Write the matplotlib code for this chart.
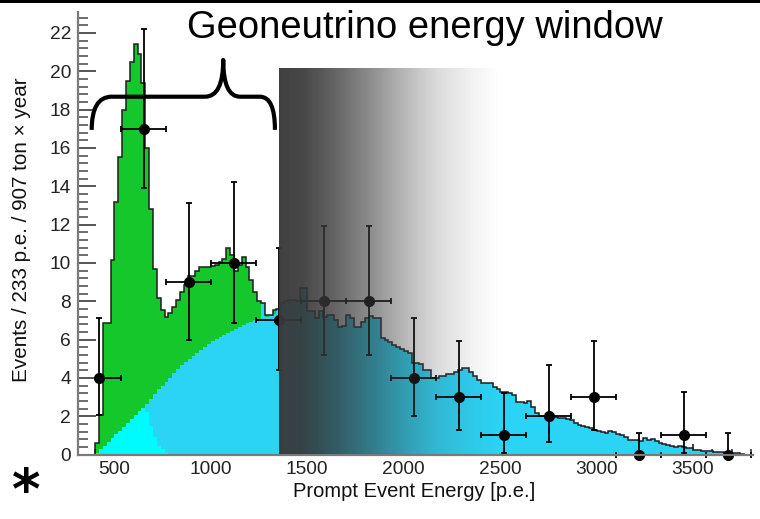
import numpy as np
import matplotlib
matplotlib.use("Agg")
import matplotlib.pyplot as plt
from matplotlib.path import Path
from matplotlib.patches import PathPatch, Rectangle
from matplotlib.ticker import MultipleLocator

plt.rcParams['font.family'] = ['Liberation Sans', 'DejaVu Sans']

# ---------------- data ----------------
# MC histogram: bins of 20 p.e. starting at 382 p.e.
bin_start = 382
bin_width = 20

# total expectation (black outline / top of green)
total = [
    0.0, 0.6, 2.05, 6.85, 6.85, 10.15, 13.2, 15.5, 18.0, 19.5,
    20.5, 21.4, 20.9, 19.4, 16.0, 12.8, 9.7, 8.15, 7.55, 7.2,
    7.4, 7.7, 8.05, 8.5, 8.85, 9.3, 9.3, 9.6, 9.8, 9.8,
    9.8, 9.85, 9.9, 10.05, 10.2, 10.8, 10.4, 9.6, 9.9, 10.3,
    9.8, 9.1, 8.5, 8.0, 7.9, 7.3, 7.3, 7.55, 7.6, 7.9,
    8.0, 8.05, 8.05, 8.0, 8.7, 8.7, 7.5, 7.5, 7.1, 7.5,
    7.2, 7.3, 7.3, 7.0, 6.65, 6.7, 7.3, 7.1, 6.65, 6.65,
    6.9, 7.1, 7.25, 7.1, 7.1, 6.1, 5.95, 5.85, 5.7, 5.6,
    5.5, 5.4, 5.3, 4.8, 4.8, 4.7, 4.4, 4.4, 4.0, 4.0,
    4.1, 4.1, 4.2, 4.2, 4.3, 4.4, 4.5, 4.5, 4.3, 4.1,
    3.9, 3.72, 3.74, 3.74, 3.54, 3.4, 3.28, 3.28, 3.2, 3.1,
    2.76, 2.76, 2.67, 2.81, 2.5, 2.15, 2.0, 2.0, 1.94, 1.94,
    1.94, 1.9, 1.9, 1.85, 1.8, 1.63, 1.55, 1.5, 1.42, 1.37,
    1.28, 1.25, 1.2, 1.14, 1.25, 1.2, 1.05, 1.0, 0.9, 0.76,
    0.76, 0.74, 0.73, 0.85, 0.76, 0.8, 0.7, 0.58, 0.55, 0.5,
    0.44, 0.39, 0.44, 0.4, 0.36, 0.32, 0.23, 0.23, 0.2, 0.18,
    0.18, 0.12, 0.12, 0.11, 0.09, 0.09, 0.09, 0.06, 0.05, 0.0,
]

# reactor (blue) top in the low-energy part; above that it equals total
reactor_low = [
    0.0, 0.1, 0.3, 0.45, 0.65, 0.85, 1.05, 1.25, 1.45, 1.65,
    1.85, 2.05, 2.25, 2.45, 2.65, 2.9, 3.15, 3.4, 3.6, 3.8,
    4.0, 4.25, 4.45, 4.65, 4.85, 5.0, 5.15, 5.3, 5.45, 5.6,
    5.75, 5.9, 6.05, 6.15, 6.25, 6.35, 6.45, 6.55, 6.65, 6.75,
    6.85, 6.9, 7.0, 7.05, 7.9, 7.2, 7.3, 7.35, 7.6, 7.9,
]

# other background (cyan) top
other_low = [
    0.0, 0.1, 0.3, 0.45, 0.65, 0.85, 1.05, 1.25, 1.45, 1.65,
    1.85, 2.05, 2.25, 2.45, 2.2, 1.5, 0.9, 0.45, 0.3, 0.1,
]

# data points (233 p.e. bins)
data_x = [422, 655, 888, 1121, 1354, 1587, 1820, 2053, 2286, 2519,
          2752, 2985, 3218, 3451, 3684]
data_y = [4, 17, 9, 10, 7, 8, 8, 4, 3, 1, 2, 3, 0, 1, 0]
data_lo = [2.05, 13.9, 6.0, 6.85, 4.4, 5.2, 5.2, 2.0, 1.3, 0.1,
           0.65, 1.3, 0.0, 0.1, 0.0]
data_hi = [7.1, 22.2, 13.1, 14.2, 10.8, 11.9, 11.9, 7.1, 5.9, 3.2,
           4.65, 5.9, 1.1, 3.25, 1.1]
data_xlo = [10, 116.5, 116.5, 116.5, 116.5, 116.5, 116.5, 116.5, 116.5,
            116.5, 116.5, 116.5, 116.5, 116.5, 116.5]
data_xhi = [116.5] * 15

# geoneutrino window bracket & shaded region (p.e.)
window_lo, window_hi, window_tip = 384.5, 1334, 1066
shade_lo, shade_hi, shade_top = 1355, 2500, 20.1

# ---------------- figure ----------------
W, H = 760, 519
fig = plt.figure(figsize=(W / 100, H / 100), dpi=100)
ax = fig.add_axes([78 / W, (H - 454.5) / H, (753 - 78) / W, (454.5 - 12) / H])

edges = bin_start + bin_width * np.arange(len(total) + 1)
total_a = np.array(total)
reactor = total_a.copy()
reactor[:len(reactor_low)] = reactor_low
other = np.zeros_like(total_a)
other[:len(other_low)] = other_low

GREEN = '#14c82c'
BLUE = '#2bd3f5'
CYAN = '#00fbff'

ax.stairs(total_a, edges, baseline=0, fill=True, color=GREEN, lw=0, zorder=1)
ax.stairs(reactor, edges, baseline=other, fill=True, color=BLUE, lw=0, zorder=2)
ax.stairs(other, edges, baseline=0, fill=True, color=CYAN, lw=0, zorder=3)
ax.stairs(total_a, edges, baseline=None, color='#1e1e1e', lw=1.1, zorder=4)

yerr = [np.array(data_y) - np.array(data_lo), np.array(data_hi) - np.array(data_y)]
ax.errorbar(data_x, data_y, xerr=[data_xlo, data_xhi], yerr=yerr, fmt='o',
            color='black', ms=7, elinewidth=1.3, capsize=2, capthick=1.3,
            zorder=6, clip_on=False)

# gradient shading (over white -> w, over black -> b)
n = 500
t = np.linspace(0, 1, n)
w = np.interp(t, [0, 0.11, 0.26, 0.41, 0.56, 0.71, 0.86, 1.0],
              [0.25, 0.28, 0.40, 0.55, 0.71, 0.855, 0.94, 1.0])
b = 0.22 * (1 - t)
a = np.clip(1 - w + b, 0, 1)
c = np.where(a > 1e-6, b / np.maximum(a, 1e-6), 0)
rgba = np.zeros((1, n, 4))
rgba[0, :, 0] = c
rgba[0, :, 1] = c
rgba[0, :, 2] = c
rgba[0, :, 3] = a
ax.imshow(rgba, extent=[shade_lo, shade_hi, 0, shade_top], aspect='auto',
          interpolation='bilinear', zorder=10)

# curly brace
yb, ym, yt = 16.94, 18.67, 20.59
verts = [(window_lo, yb), (window_lo, ym), (488, ym),
         (971.5, ym),
         (window_tip, ym), (window_tip, yt),
         (window_tip, ym), (1153, ym),
         (1256, ym),
         (window_hi, ym), (window_hi, yb)]
codes = [Path.MOVETO, Path.CURVE3, Path.CURVE3,
         Path.LINETO,
         Path.CURVE3, Path.CURVE3,
         Path.CURVE3, Path.CURVE3,
         Path.LINETO,
         Path.CURVE3, Path.CURVE3]
ax.add_patch(PathPatch(Path(verts, codes), fill=False, lw=3.0, color='black',
                       capstyle='butt', joinstyle='round', zorder=7))

ax.set_xlim(313.5, 3811)
ax.set_ylim(0, 23.09)
ax.set_facecolor('none')

for s in ('top', 'right'):
    ax.spines[s].set_visible(False)
for s in ('left', 'bottom'):
    ax.spines[s].set_color('#7a7a7a')
    ax.spines[s].set_linewidth(1.6)
    ax.spines[s].set_zorder(9)

ax.xaxis.set_major_locator(MultipleLocator(500))
ax.xaxis.set_minor_locator(MultipleLocator(100))
ax.yaxis.set_major_locator(MultipleLocator(2))
ax.yaxis.set_minor_locator(MultipleLocator(0.4))
ax.tick_params(axis='x', which='major', direction='in', length=8, width=1.3,
               color='#333333', labelsize=13.8, pad=5, labelcolor='#222222')
ax.tick_params(axis='x', which='minor', direction='in', length=4.5, width=1.2,
               color='#333333')
ax.tick_params(axis='y', which='major', direction='in', length=13, width=1.4,
               color='#555555', labelsize=13.8, pad=5, labelcolor='#222222')
ax.tick_params(axis='y', which='minor', direction='in', length=7, width=1.2,
               color='#555555')

t_x = fig.text(414 / W, 1 - 497 / H, 'Prompt Event Energy [p.e.]', fontsize=14.5,
               ha='center', va='baseline', color='#111111')
t_y = fig.text(22 / W, 1 - 230 / H, 'Events / 233 p.e. / 907 ton \u00d7 year',
               fontsize=14.8, rotation=90, ha='center', va='center', color='#111111')
t_t = fig.text(425 / W, 1 - 38 / H, 'Geoneutrino energy window', fontsize=27,
               ha='center', va='baseline', color='black')
# low asterisk: sits near the baseline so the text box stays inside the figure
t_a = fig.text(27 / W, 1 - 492 / H, '\u204e', fontsize=44, fontweight='bold',
               family=['Liberation Sans', 'DejaVu Sans'],
               ha='center', va='baseline', color='black')

fig.add_artist(Rectangle((0, 1 - 3 / H), 1, 3 / H, transform=fig.transFigure,
                         color='black', lw=0))

# fit text lengths to the reference extents (pixels)
renderer = fig.canvas.get_renderer()
for txt, target, vertical in ((t_x, 242, False), (t_y, 304, True), (t_t, 475, False)):
    for _ in range(2):
        bb = txt.get_window_extent(renderer)
        cur = bb.height if vertical else bb.width
        txt.set_fontsize(txt.get_fontsize() * target / cur)


def ink_box():
    fig.canvas.draw()
    img = np.asarray(fig.canvas.buffer_rgba())[:, :, :3]
    reg = img[395:519, 0:56].min(axis=2) < 110
    rows = np.where(reg.any(axis=1))[0]
    cols = np.where(reg.any(axis=0))[0]
    if len(rows) == 0:
        return None
    return 395 + rows[0], 395 + rows[-1], cols[0], cols[-1]


# place the asterisk ink at the reference spot (x 13-40, y 468-492)
for _ in range(3):
    box = ink_box()
    if box is None:
        break
    top, bot, left, right = box
    hgt = bot - top + 1
    t_a.set_fontsize(t_a.get_fontsize() * 25.0 / hgt)
    box = ink_box()
    if box is None:
        break
    top, bot, left, right = box
    x0, y0 = t_a.get_position()
    x0 += (26.5 - 0.5 * (left + right)) / W
    y0 -= (492 - bot) / H
    t_a.set_position((x0, y0))

fig.savefig('out.png', dpi=100)
